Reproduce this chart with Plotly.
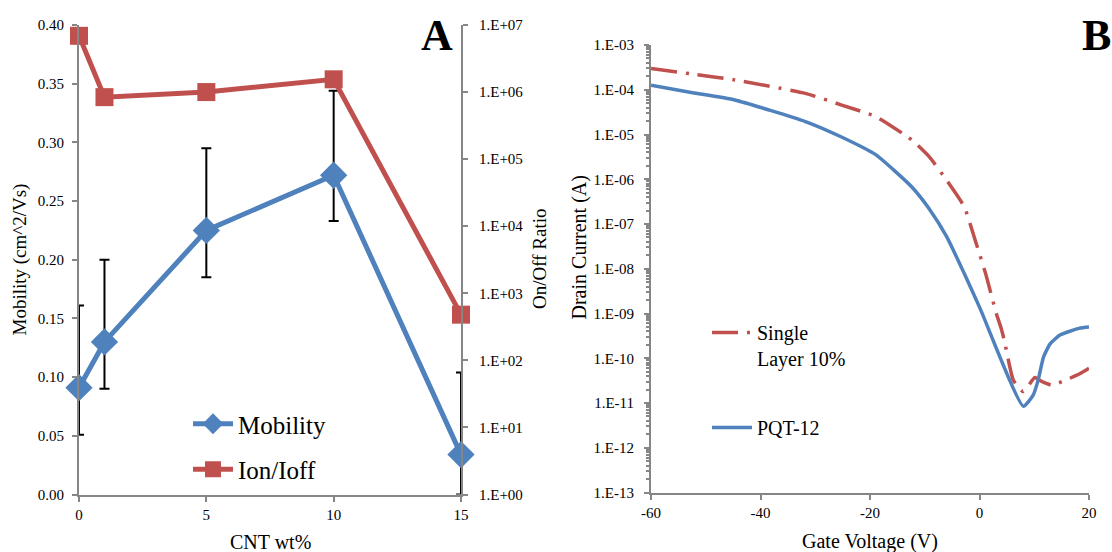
import plotly.graph_objects as go

# ---------------- Panel A data ----------------
cnt_wt = [0, 1, 5, 10, 15]
mobility = [0.091, 0.130, 0.225, 0.272, 0.034]
mobility_err_plus = [0.070, 0.070, 0.070, 0.072, 0.070]
mobility_err_minus = [0.040, 0.040, 0.040, 0.039, 0.034]
ion_ioff = [6.9e6, 8.4e5, 1.0e6, 1.55e6, 480]

mob_ticks = [0.0, 0.05, 0.10, 0.15, 0.20, 0.25, 0.30, 0.35, 0.40]
ratio_ticks = [1e0, 1e1, 1e2, 1e3, 1e4, 1e5, 1e6, 1e7]
ratio_ticktext = ["1.E+00", "1.E+01", "1.E+02", "1.E+03", "1.E+04", "1.E+05", "1.E+06", "1.E+07"]

# ---------------- Panel B data ----------------
vg_pqt = [-60, -52.4, -44.7, -31.8, -25.3, -18.9, -15.7, -12.4, -9.2, -6.0, -2.8, 0.1,
          8.0, 9.8, 10.7, 11.7, 12.9, 14.7, 18.3, 20]
id_pqt = [1.26e-4, 8.6e-5, 5.9e-5, 1.95e-5, 8.9e-6, 3.5e-6, 1.62e-6, 6.8e-7, 2.2e-7, 5.2e-8,
          7.9e-9, 1.3e-9, 8.5e-12, 1.5e-11, 3.2e-11, 1.07e-10, 2.1e-10, 3.3e-10, 4.7e-10, 5.0e-10]

vg_single = [-60, -52.4, -44.7, -31.8, -25.3, -18.9, -12.4, -9.2, -6.0, -2.8, -0.8, 1.1,
             3.05, 3.9, 4.5, 6.2, 8.0, 10.1, 11.0, 13.2, 15.6, 18.3, 20]
id_single = [3.0e-4, 2.24e-4, 1.66e-4, 8.3e-5, 4.6e-5, 2.5e-5, 7.6e-6, 3.2e-6, 9.5e-7, 2.45e-7,
             4.4e-8, 7.9e-9, 1.02e-9, 4.9e-10, 2.6e-10, 3.2e-11, 1.8e-11, 3.7e-11, 3.2e-11,
             2.5e-11, 3.2e-11, 4.5e-11, 6.0e-11]

current_ticks = [1e-3, 1e-4, 1e-5, 1e-6, 1e-7, 1e-8, 1e-9, 1e-10, 1e-11, 1e-12, 1e-13]
current_ticktext = ["1.E-03", "1.E-04", "1.E-05", "1.E-06", "1.E-07", "1.E-08",
                    "1.E-09", "1.E-10", "1.E-11", "1.E-12", "1.E-13"]
vg_ticks = [-60, -40, -20, 0, 20]
vg_ticktext = ["-60", "-40", "-20", "0", "20"]

BLUE = "#4F81BD"
RED = "#C0504D"
AXIS = "#868686"
FONT = "Times New Roman, Liberation Serif, serif"
W, H = 1112, 552


def px_x(p):
    return p / W


def px_y(p):
    return 1 - p / H


fig = go.Figure()

fig.add_trace(go.Scatter(
    x=cnt_wt, y=mobility, name="Mobility", mode="lines+markers",
    line=dict(color=BLUE, width=5),
    marker=dict(symbol="diamond", size=21, color=BLUE),
    error_y=dict(type="data", symmetric=False, array=mobility_err_plus,
                 arrayminus=mobility_err_minus, color="black", thickness=2, width=5),
    xaxis="x", yaxis="y", legend="legend", legendgroup="a1", cliponaxis=False,
))
fig.add_trace(go.Scatter(
    x=cnt_wt, y=ion_ioff, name="Ion/Ioff", mode="lines+markers",
    line=dict(color=RED, width=5),
    marker=dict(symbol="square", size=18, color=RED),
    xaxis="x", yaxis="y2", legend="legend", legendgroup="a2", cliponaxis=False,
))
fig.add_trace(go.Scatter(
    x=vg_single, y=id_single, name="Single<br>Layer 10%", mode="lines",
    line=dict(color=RED, width=3.5, dash="26px,9px,3px,9px", shape="spline", smoothing=0.5),
    xaxis="x3", yaxis="y3", legend="legend2", legendgroup="b1",
))
fig.add_trace(go.Scatter(
    x=vg_pqt, y=id_pqt, name="PQT-12", mode="lines",
    line=dict(color=BLUE, width=3.5, shape="spline", smoothing=0.5),
    xaxis="x3", yaxis="y3", legend="legend2", legendgroup="b2",
))

tickfont = dict(family=FONT, size=15, color="black")
axis_common = dict(showline=True, linecolor=AXIS, linewidth=2, showgrid=False,
                   zeroline=False, ticks="outside", ticklen=5, tickcolor=AXIS,
                   tickwidth=1.5, tickfont=tickfont, automargin=False)

fig.update_layout(
    width=W, height=H,
    margin=dict(l=0, r=0, t=0, b=0, autoexpand=False),
    paper_bgcolor="white", plot_bgcolor="white",
    font=dict(family=FONT, color="black"),
    xaxis=dict(domain=[px_x(79), px_x(461)], range=[0, 15], tickvals=[0, 5, 10, 15],
               anchor="y", ticklabelstandoff=0, **axis_common),
    yaxis=dict(domain=[px_y(494.5), px_y(25)], range=[0, 0.40], tickvals=mob_ticks,
               tickformat=".2f", anchor="x", ticklabelstandoff=5, **axis_common),
    yaxis2=dict(type="log", range=[0, 7], tickvals=ratio_ticks, ticktext=ratio_ticktext,
                overlaying="y", side="right", anchor="x", ticklabelstandoff=8, **axis_common),
    xaxis3=dict(domain=[px_x(651), px_x(1089)], range=[-60, 20], tickvals=vg_ticks,
                ticktext=vg_ticktext, anchor="y3", ticklabelstandoff=0, **axis_common),
    yaxis3=dict(domain=[px_y(492.5), px_y(45)], type="log", range=[-13, -3],
                tickvals=current_ticks, ticktext=current_ticktext, anchor="x3",
                ticklabelstandoff=7,
                minor=dict(ticks="outside", ticklen=3, tickcolor=AXIS, dtick="D1",
                           showgrid=False),
                **axis_common),
    legend=dict(x=px_x(188), y=px_y(401), xanchor="left", yanchor="top",
                bgcolor="rgba(0,0,0,0)", font=dict(family=FONT, size=25),
                tracegroupgap=10, itemwidth=40),
    legend2=dict(x=px_x(707), y=px_y(313), xanchor="left", yanchor="top",
                 bgcolor="rgba(0,0,0,0)", font=dict(family=FONT, size=20),
                 tracegroupgap=40, itemwidth=40, valign="top"),
    showlegend=True,
)

annotations = [
    dict(text="<b>A</b>", x=px_x(437), y=px_y(36), size=44),
    dict(text="<b>B</b>", x=px_x(1096), y=px_y(36), size=44),
    dict(text="Mobility (cm^2/Vs)", x=px_x(20), y=px_y(259.5), textangle=-90, size=19),
    dict(text="On/Off Ratio", x=px_x(539), y=px_y(259), textangle=-90, size=19),
    dict(text="CNT wt%", x=px_x(270), y=px_y(542), size=20),
    dict(text="Gate Voltage (V)", x=px_x(870), y=px_y(541), size=20),
    dict(text="Drain Current (A)", x=px_x(578.5), y=px_y(248), textangle=-90, size=20),
]
for a in annotations:
    size = a.pop("size")
    fig.add_annotation(xref="paper", yref="paper", showarrow=False,
                       xanchor="center", yanchor="middle",
                       font=dict(family=FONT, color="black", size=size), **a)

fig.write_html("out.html")
